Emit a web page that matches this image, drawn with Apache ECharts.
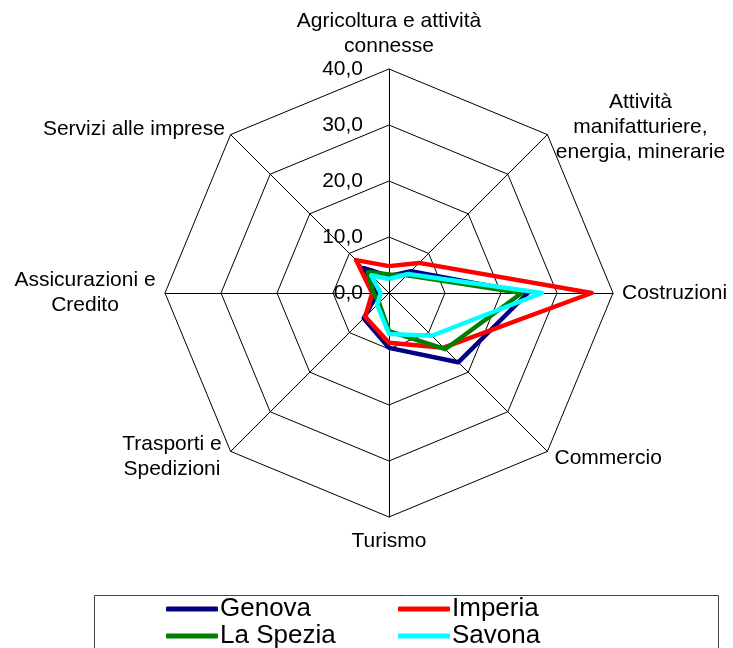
<!DOCTYPE html>
<html>
<head>
<meta charset="utf-8">
<script src="https://cdn.jsdelivr.net/npm/echarts@6/dist/echarts.min.js"></script>
<style>
  html, body { margin: 0; padding: 0; background: #fff; }
  #chart { width: 733px; height: 648px; }
</style>
</head>
<body>
<div id="chart"></div>
<script>
// settori (assi del radar, in senso orario partendo dall'alto)
const categories = [
  'Agricoltura e attività\nconnesse',
  'Attività\nmanifatturiere,\nenergia, minerarie',
  'Costruzioni',
  'Commercio',
  'Turismo',
  'Trasporti e\nSpedizioni',
  'Assicurazioni e\nCredito',
  'Servizi alle imprese'
];
const genova   = [3.0, 5.5, 24.8, 17.5, 9.8, 6.4, 2.0, 6.3];
const imperia  = [4.8, 7.6, 36.2, 13.8, 8.9, 6.0, 3.0, 8.3];
const laSpezia = [3.3, 4.5, 23.7, 14.2, 6.8, 2.5, 2.8, 5.3];
const savona   = [2.5, 4.8, 27.3, 10.8, 7.3, 3.0, 1.5, 4.5];
const axisMax = 40;
const tickLabels = ['0,0', '10,0', '20,0', '30,0', '40,0'];

const font = '"Liberation Sans", Arial, sans-serif';

// ritocchi di posizione dei nomi degli assi (stesso ordine di categories)
const nameTweaks = [
  { nameGap: 7,  nameTextStyle: { align: 'center', verticalAlign: 'bottom' } },
  { nameGap: 10, nameTextStyle: { align: 'center', verticalAlign: 'middle', padding: [6, 0, 0, 172] } },
  { nameGap: 9,  nameTextStyle: { align: 'left', verticalAlign: 'middle' } },
  { nameGap: 10, nameTextStyle: { align: 'left', verticalAlign: 'middle', padding: [4, 0, 0, 0] } },
  { nameGap: 12, nameTextStyle: { align: 'center', verticalAlign: 'top' } },
  { nameGap: 8,  nameTextStyle: { align: 'center', verticalAlign: 'middle', padding: [3, 106, 0, 0] } },
  { nameGap: 8,  nameTextStyle: { align: 'center', verticalAlign: 'middle', padding: [3, 144, 0, 0] } },
  { nameGap: 8,  nameTextStyle: { align: 'right', verticalAlign: 'middle' } }
];

// echarts disegna gli assi in senso antiorario: si inverte l'ordine
const order = categories.map(function (c, k) { return (categories.length - k) % categories.length; });
function reorder(arr) { return order.map(function (i) { return arr[i]; }); }

const indicators = order.map(function (i) {
  const ind = { name: categories[i], min: 0, max: axisMax };
  Object.assign(ind, nameTweaks[i]);
  if (i === 0) {
    ind.axisLabel = { show: true };
  }
  return ind;
});

const myChart = echarts.init(document.getElementById('chart'));

function mkSeries(name, data, color) {
  return {
    name: name,
    type: 'radar',
    symbol: 'none',
    itemStyle: { color: color },
    lineStyle: { color: color, width: 4.5 },
    data: [{ value: reorder(data), name: name }]
  };
}

function mkLegend(name, left, top) {
  return {
    left: left,
    top: top,
    data: [name],
    itemWidth: 52,
    itemHeight: 5,
    icon: 'roundRect',
    textStyle: { fontFamily: font, fontSize: 26, color: '#000', padding: [0, 0, 0, -3] }
  };
}

const options = {
  animation: false,
  backgroundColor: '#fff',
  radar: {
    center: [389, 293],
    radius: 224,
    startAngle: 90,
    shape: 'polygon',
    splitNumber: 4,
    axisName: {
      color: '#000',
      fontFamily: font,
      fontSize: 21,
      lineHeight: 25
    },
    axisLine: { lineStyle: { color: '#000', width: 1 } },
    splitLine: { lineStyle: { color: '#000', width: 1 } },
    splitArea: { show: false },
    axisTick: { show: false },
    axisLabel: {
      show: false,
      color: '#000',
      fontFamily: font,
      fontSize: 21,
      margin: 26,
      formatter: function (v) {
        return tickLabels[Math.round(v / 10)];
      }
    },
    indicator: indicators
  },
  legend: [
    mkLegend('Genova', 161, 591),
    mkLegend('Imperia', 393, 591),
    mkLegend('La Spezia', 161, 618),
    mkLegend('Savona', 393, 618)
  ],
  graphic: [{
    type: 'rect',
    left: 92,
    top: 593,
    shape: { width: 624, height: 70 },
    style: { fill: 'none', stroke: '#444', lineWidth: 1 },
    silent: true
  }],
  series: [
    mkSeries('Genova', genova, '#000080'),
    mkSeries('Imperia', imperia, '#ff0000'),
    mkSeries('La Spezia', laSpezia, '#008000'),
    mkSeries('Savona', savona, '#00ffff')
  ]
};
myChart.setOption(options);
</script>
</body>
</html>
